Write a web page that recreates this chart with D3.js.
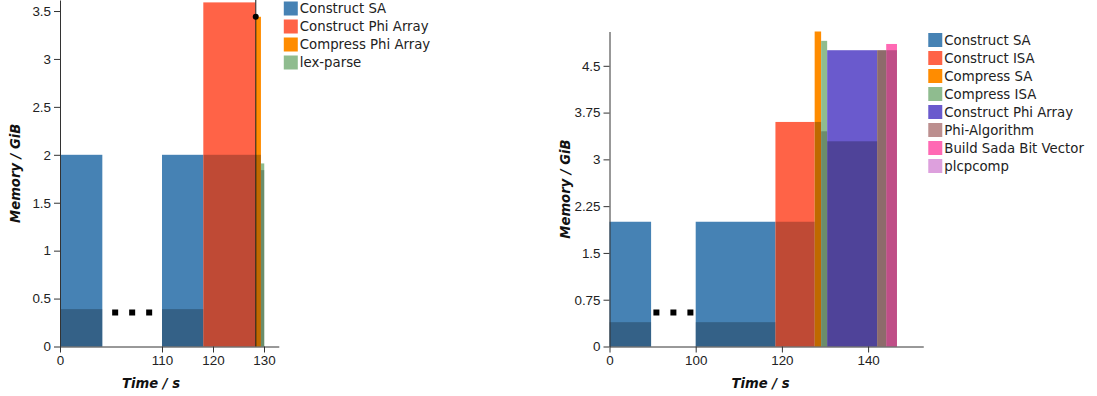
<!DOCTYPE html>
<html>
<head>
<meta charset="utf-8">
<script src="https://cdn.jsdelivr.net/npm/d3@7"></script>
<style>
body { margin: 0; background: #fff; }
svg { display: block; font-family: "DejaVu Sans", sans-serif; }
.axis text { font-size: 13.4px; fill: #222; }
.axis path, .axis line { stroke: #333; }
.title { font-size: 13.2px; font-weight: bold; font-style: italic; fill: #111; }
.legend text { font-size: 13.3px; fill: #222; }
</style>
</head>
<body>
<svg></svg>
<script>
// left panel
const leftLegend = ['Construct SA', 'Construct Phi Array', 'Compress Phi Array', 'lex-parse'];
const leftPhase = ['Construct SA', 'Construct SA', 'Construct Phi Array', 'Compress Phi Array', 'lex-parse'];
const leftStart = [0, 110, 118.1, 128.35, 129.4];
const leftEnd = [8.3, 118.1, 128.3, 129.4, 130.05];
const leftPeak = [2, 2, 3.59, 3.44, 1.91];
const leftBase = [0.39, 0.39, 2, 2, 1.84];
const leftXTicks = [0, 110, 120, 130];
const leftYTicks = [0, 0.5, 1, 1.5, 2, 2.5, 3, 3.5];
const leftMarkerTime = 128.38;
const leftMarkerMem = 3.44;

// right panel
const rightLegend = ['Construct SA', 'Construct ISA', 'Compress SA', 'Compress ISA', 'Construct Phi Array', 'Phi-Algorithm', 'Build Sada Bit Vector', 'plcpcomp'];
const rightPhase = ['Construct SA', 'Construct SA', 'Construct ISA', 'Compress SA', 'Compress ISA', 'Construct Phi Array', 'Phi-Algorithm', 'Build Sada Bit Vector'];
const rightStart = [0, 100, 118.5, 127.6, 129.1, 130.5, 142.1, 144.2];
const rightEnd = [9.65, 118.5, 127.6, 129.1, 130.5, 142.1, 144.2, 146.7];
const rightPeak = [2, 2, 3.6, 5.05, 4.9, 4.75, 4.75, 4.85];
const rightBase = [0.39, 0.39, 2, 3.6, 3.45, 3.29, 4.75, 4.75];
const rightXTicks = [0, 100, 120, 140];
const rightYTicks = [0, 0.75, 1.5, 2.25, 3, 3.75, 4.5];

var svg;

function drawPanel(p){
	var g = svg.append('g');

	// broken time axis: [0, 20] then [gap, end]
	var x = d3.scaleLinear()
	.domain([0, 20, p.gap, p.xMax])
	.range([p.left, p.left + 20*p.rate, p.left + 20*p.rate, p.left + 20*p.rate + (p.xMax - p.gap)*p.rate]);

	var y = d3.scaleLinear()
	.domain([0, p.yMax])
	.range([p.bottom, p.top]);

	var color = d3.scaleOrdinal().domain(p.legend).range(p.colors);

	var bars = p.phase.map((d, i) => ({
		phase: d, start: p.start[i], end: p.end[i], peak: p.peak[i], base: p.base[i]
	}));

	g.selectAll('rect.bar')
	.data(bars).enter().append('rect')
	.classed('bar', true)
	.attr('x', d => x(d.start)).attr('y', d => y(d.peak))
	.attr('width', d => x(d.end) - x(d.start))
	.attr('height', d => y(0) - y(d.peak))
	.style('fill', d => color(d.phase));

	// memory still held from earlier phases
	g.selectAll('rect.base')
	.data(bars).enter().append('rect')
	.classed('base', true)
	.attr('x', d => x(d.start)).attr('y', d => y(d.base))
	.attr('width', d => x(d.end) - x(d.start))
	.attr('height', d => y(0) - y(d.base))
	.style('fill', '#000').style('opacity', 0.25);

	// dots for the skipped time range
	var mid = (x(p.end[0]) + x(p.gap))/2;
	g.selectAll('rect.dot')
	.data([-1, 0, 1]).enter().append('rect')
	.classed('dot', true)
	.attr('x', d => mid + d*17 - 3).attr('y', p.bottom - 37)
	.attr('width', 6).attr('height', 6)
	.style('fill', '#000');

	if(p.marker){
		g.append('line')
		.attr('x1', x(p.marker[0])).attr('x2', x(p.marker[0]))
		.attr('y1', p.top).attr('y2', p.bottom)
		.style('stroke', '#000').style('stroke-width', 1.2).style('opacity', 0.75);
		g.append('circle')
		.attr('cx', x(p.marker[0])).attr('cy', y(p.marker[1]))
		.attr('r', 3).style('fill', '#000');
	}

	g.append('g').classed('axis', true)
	.attr('transform', 'translate(0,' + p.bottom + ')')
	.call(d3.axisBottom(x).tickValues(p.xTicks).tickFormat(d3.format('d')).tickSizeOuter(0));

	g.append('g').classed('axis', true)
	.attr('transform', 'translate(' + p.left + ',0)')
	.call(d3.axisLeft(y).tickValues(p.yTicks).tickFormat(d => String(d)).tickSizeOuter(0));

	g.append('text').classed('title', true)
	.attr('x', p.xTitle).attr('y', 388)
	.attr('text-anchor', 'middle')
	.text('Time / s');

	g.append('text').classed('title', true)
	.attr('transform', 'translate(' + p.yTitle + ',' + (p.top + p.bottom)/2 + ') rotate(-90)')
	.attr('text-anchor', 'middle')
	.text('Memory / GiB');

	// legend
	var lx = x.range()[3] + 5;
	var leg = g.append('g').classed('legend', true)
	.selectAll('g').data(p.legend).enter().append('g')
	.attr('transform', (d, i) => 'translate(' + lx + ',' + (p.top + 1.5 + i*18) + ')');
	leg.append('rect').attr('width', 14).attr('height', 14).style('fill', d => color(d));
	leg.append('text').attr('x', 16).attr('y', 11.5).text(d => d);
}

function init(){
	svg = d3.select('svg').attr('width', 1097).attr('height', 396);

	drawPanel({
		legend: leftLegend,
		colors: ['#4682b4', '#ff6347', '#ff8c00', '#8fbc8f'],
		phase: leftPhase, start: leftStart, end: leftEnd, peak: leftPeak, base: leftBase,
		xTicks: leftXTicks, yTicks: leftYTicks,
		left: 60, rate: 5.1, gap: 110, xMax: 132.9,
		top: 0, bottom: 346.5, yMax: 3.615,
		xTitle: 151, yTitle: 20,
		marker: [leftMarkerTime, leftMarkerMem]
	});

	drawPanel({
		legend: rightLegend,
		colors: ['#4682b4', '#ff6347', '#ff8c00', '#8fbc8f', '#6a5acd', '#bc8f8f', '#ff69b4', '#dda0dd'],
		phase: rightPhase, start: rightStart, end: rightEnd, peak: rightPeak, base: rightBase,
		xTicks: rightXTicks, yTicks: rightYTicks,
		left: 609.5, rate: 4.31, gap: 100, xMax: 152.8,
		top: 31.5, bottom: 346.5, yMax: 5.05,
		xTitle: 760.5, yTitle: 570
	});
}

init();
</script>
</body>
</html>
